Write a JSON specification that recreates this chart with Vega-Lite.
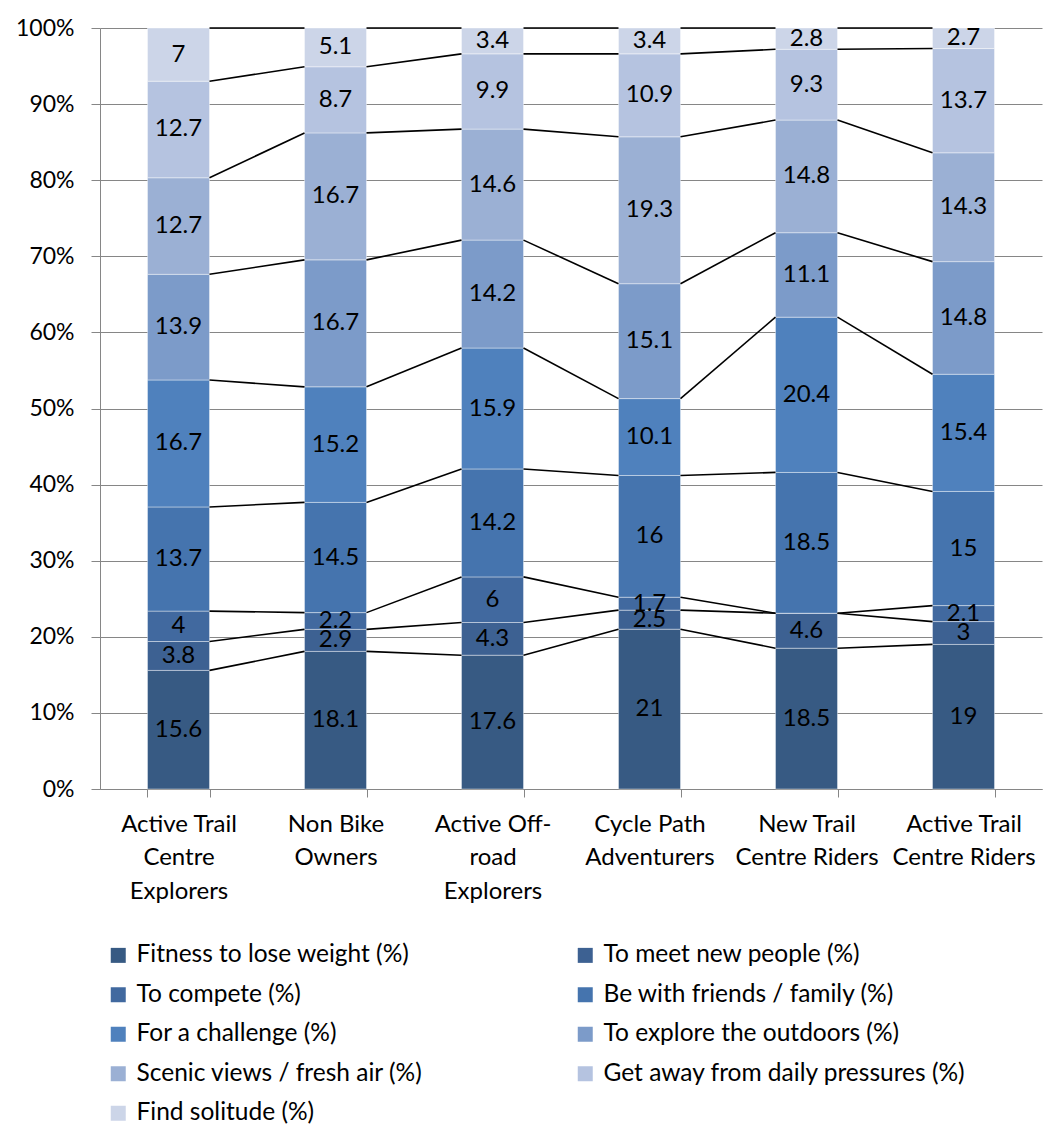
{
  "$schema": "https://vega.github.io/schema/vega-lite/v6.json",
  "width": 942,
  "height": 761,
  "autosize": {"type": "none"},
  "padding": {"left": 100, "top": 28, "right": 9, "bottom": 346},
  "background": "white",
  "config": {
    "font": "Lato",
    "view": {"stroke": null},
    "axis": {"labelFont": "Lato", "labelColor": "black", "labelFontSize": 23, "domainColor": "#868686", "tickColor": "#868686", "gridColor": "#868686", "title": null},
    "legend": {"labelFont": "Lato"}
  },
  "data": {
    "values": [
      {"group": "Active Trail Centre Explorers", "series": "Fitness to lose weight (%)", "value": 15.6},
      {"group": "Active Trail Centre Explorers", "series": "To meet new people (%)", "value": 3.8},
      {"group": "Active Trail Centre Explorers", "series": "To compete (%)", "value": 4},
      {"group": "Active Trail Centre Explorers", "series": "Be with  friends / family (%)", "value": 13.7},
      {"group": "Active Trail Centre Explorers", "series": "For a challenge (%)", "value": 16.7},
      {"group": "Active Trail Centre Explorers", "series": "To explore the outdoors (%)", "value": 13.9},
      {"group": "Active Trail Centre Explorers", "series": "Scenic views / fresh air (%)", "value": 12.7},
      {"group": "Active Trail Centre Explorers", "series": "Get away from daily pressures (%)", "value": 12.7},
      {"group": "Active Trail Centre Explorers", "series": "Find solitude (%)", "value": 7},
      {"group": "Non Bike Owners", "series": "Fitness to lose weight (%)", "value": 18.1},
      {"group": "Non Bike Owners", "series": "To meet new people (%)", "value": 2.9},
      {"group": "Non Bike Owners", "series": "To compete (%)", "value": 2.2},
      {"group": "Non Bike Owners", "series": "Be with  friends / family (%)", "value": 14.5},
      {"group": "Non Bike Owners", "series": "For a challenge (%)", "value": 15.2},
      {"group": "Non Bike Owners", "series": "To explore the outdoors (%)", "value": 16.7},
      {"group": "Non Bike Owners", "series": "Scenic views / fresh air (%)", "value": 16.7},
      {"group": "Non Bike Owners", "series": "Get away from daily pressures (%)", "value": 8.7},
      {"group": "Non Bike Owners", "series": "Find solitude (%)", "value": 5.1},
      {"group": "Active Off-road Explorers", "series": "Fitness to lose weight (%)", "value": 17.6},
      {"group": "Active Off-road Explorers", "series": "To meet new people (%)", "value": 4.3},
      {"group": "Active Off-road Explorers", "series": "To compete (%)", "value": 6},
      {"group": "Active Off-road Explorers", "series": "Be with  friends / family (%)", "value": 14.2},
      {"group": "Active Off-road Explorers", "series": "For a challenge (%)", "value": 15.9},
      {"group": "Active Off-road Explorers", "series": "To explore the outdoors (%)", "value": 14.2},
      {"group": "Active Off-road Explorers", "series": "Scenic views / fresh air (%)", "value": 14.6},
      {"group": "Active Off-road Explorers", "series": "Get away from daily pressures (%)", "value": 9.9},
      {"group": "Active Off-road Explorers", "series": "Find solitude (%)", "value": 3.4},
      {"group": "Cycle Path Adventurers", "series": "Fitness to lose weight (%)", "value": 21},
      {"group": "Cycle Path Adventurers", "series": "To meet new people (%)", "value": 2.5},
      {"group": "Cycle Path Adventurers", "series": "To compete (%)", "value": 1.7},
      {"group": "Cycle Path Adventurers", "series": "Be with  friends / family (%)", "value": 16},
      {"group": "Cycle Path Adventurers", "series": "For a challenge (%)", "value": 10.1},
      {"group": "Cycle Path Adventurers", "series": "To explore the outdoors (%)", "value": 15.1},
      {"group": "Cycle Path Adventurers", "series": "Scenic views / fresh air (%)", "value": 19.3},
      {"group": "Cycle Path Adventurers", "series": "Get away from daily pressures (%)", "value": 10.9},
      {"group": "Cycle Path Adventurers", "series": "Find solitude (%)", "value": 3.4},
      {"group": "New Trail Centre Riders", "series": "Fitness to lose weight (%)", "value": 18.5},
      {"group": "New Trail Centre Riders", "series": "To meet new people (%)", "value": 4.6},
      {"group": "New Trail Centre Riders", "series": "To compete (%)", "value": 0},
      {"group": "New Trail Centre Riders", "series": "Be with  friends / family (%)", "value": 18.5},
      {"group": "New Trail Centre Riders", "series": "For a challenge (%)", "value": 20.4},
      {"group": "New Trail Centre Riders", "series": "To explore the outdoors (%)", "value": 11.1},
      {"group": "New Trail Centre Riders", "series": "Scenic views / fresh air (%)", "value": 14.8},
      {"group": "New Trail Centre Riders", "series": "Get away from daily pressures (%)", "value": 9.3},
      {"group": "New Trail Centre Riders", "series": "Find solitude (%)", "value": 2.8},
      {"group": "Active Trail Centre Riders", "series": "Fitness to lose weight (%)", "value": 19},
      {"group": "Active Trail Centre Riders", "series": "To meet new people (%)", "value": 3},
      {"group": "Active Trail Centre Riders", "series": "To compete (%)", "value": 2.1},
      {"group": "Active Trail Centre Riders", "series": "Be with  friends / family (%)", "value": 15},
      {"group": "Active Trail Centre Riders", "series": "For a challenge (%)", "value": 15.4},
      {"group": "Active Trail Centre Riders", "series": "To explore the outdoors (%)", "value": 14.8},
      {"group": "Active Trail Centre Riders", "series": "Scenic views / fresh air (%)", "value": 14.3},
      {"group": "Active Trail Centre Riders", "series": "Get away from daily pressures (%)", "value": 13.7},
      {"group": "Active Trail Centre Riders", "series": "Find solitude (%)", "value": 2.7}
    ]
  },
  "transform": [
    {"calculate": "indexof(['Active Trail Centre Explorers', 'Non Bike Owners', 'Active Off-road Explorers', 'Cycle Path Adventurers', 'New Trail Centre Riders', 'Active Trail Centre Riders'], datum.group)", "as": "gi"},
    {"calculate": "indexof(['Fitness to lose weight (%)', 'To meet new people (%)', 'To compete (%)', 'Be with  friends / family (%)', 'For a challenge (%)', 'To explore the outdoors (%)', 'Scenic views / fresh air (%)', 'Get away from daily pressures (%)', 'Find solitude (%)'], datum.series)", "as": "si"},
    {"stack": "value", "groupby": ["group"], "sort": [{"field": "si", "order": "ascending"}], "offset": "normalize", "as": ["y0", "y1"]},
    {"calculate": "(datum.y0 + datum.y1) / 2", "as": "ymid"}
  ],
  "layer": [
    {
      "mark": {"type": "bar", "stroke": "white", "strokeWidth": 1, "strokeOpacity": 0.4},
      "encoding": {
        "x": {
          "field": "group", "type": "nominal",
          "sort": ["Active Trail Centre Explorers", "Non Bike Owners", "Active Off-road Explorers", "Cycle Path Adventurers", "New Trail Centre Riders", "Active Trail Centre Riders"],
          "scale": {"paddingInner": 0.605, "paddingOuter": 0.3025},
          "axis": {
            "labelAngle": 0, "tickBand": "extent", "tickSize": 8, "labelPadding": 15, "labelLineHeight": 33.5, "labelFontSize": 24,
            "labelExpr": "datum.value == 'Active Trail Centre Explorers' ? ['Active Trail', 'Centre', 'Explorers'] : datum.value == 'Non Bike Owners' ? ['Non Bike', 'Owners'] : datum.value == 'Active Off-road Explorers' ? ['Active Off-', 'road', 'Explorers'] : datum.value == 'Cycle Path Adventurers' ? ['Cycle Path', 'Adventurers'] : datum.value == 'New Trail Centre Riders' ? ['New Trail', 'Centre Riders'] : datum.value == 'Active Trail Centre Riders' ? ['Active Trail', 'Centre Riders'] : ''"
          }
        },
        "y": {
          "field": "y0", "type": "quantitative",
          "scale": {"domain": [0, 1], "nice": false},
          "axis": {"format": "%", "values": [0, 0.1, 0.2, 0.3, 0.4, 0.5, 0.6, 0.7, 0.8, 0.9, 1], "grid": true, "tickSize": 9, "labelPadding": 17}
        },
        "y2": {"field": "y1"},
        "color": {
          "field": "series", "type": "nominal",
          "scale": {
            "domain": ["Fitness to lose weight (%)", "To meet new people (%)", "To compete (%)", "Be with  friends / family (%)", "For a challenge (%)", "To explore the outdoors (%)", "Scenic views / fresh air (%)", "Get away from daily pressures (%)", "Find solitude (%)"],
            "range": ["#375a83", "#3d6192", "#41699f", "#4574ae", "#4f81bd", "#7c9bc9", "#9bb0d4", "#b5c3e0", "#ccd5e8"]
          },
          "legend": {
            "orient": "none", "legendX": 6, "legendY": 915, "title": null, "columns": 2, "direction": "horizontal",
            "symbolType": "square", "symbolSize": 225, "symbolStrokeWidth": 0,
            "labelFontSize": 24.5, "labelColor": "black", "labelOffset": 6, "labelLimit": 600,
            "rowPadding": 14.5, "columnPadding": 150, "padding": 0
          }
        }
      }
    },
    {
      "transform": [
        {"window": [{"op": "lead", "field": "group", "as": "nextGroup"}, {"op": "lead", "field": "y1", "as": "nextY"}], "groupby": ["series"], "sort": [{"field": "gi", "order": "ascending"}]},
        {"filter": "datum.nextGroup != null"}
      ],
      "mark": {"type": "rule", "color": "black", "strokeWidth": 1.6},
      "encoding": {
        "x": {"field": "group", "type": "nominal", "sort": ["Active Trail Centre Explorers", "Non Bike Owners", "Active Off-road Explorers", "Cycle Path Adventurers", "New Trail Centre Riders", "Active Trail Centre Riders"], "bandPosition": 1},
        "x2": {"field": "nextGroup", "bandPosition": 0},
        "y": {"field": "y1", "type": "quantitative"},
        "y2": {"field": "nextY"}
      }
    },
    {
      "transform": [{"filter": "datum.value > 0"}],
      "mark": {"type": "text", "fontSize": 24, "color": "black"},
      "encoding": {
        "x": {"field": "group", "type": "nominal", "sort": ["Active Trail Centre Explorers", "Non Bike Owners", "Active Off-road Explorers", "Cycle Path Adventurers", "New Trail Centre Riders", "Active Trail Centre Riders"]},
        "y": {"field": "ymid", "type": "quantitative"},
        "text": {"field": "value", "type": "quantitative", "format": ".3~g"}
      }
    }
  ]
}
